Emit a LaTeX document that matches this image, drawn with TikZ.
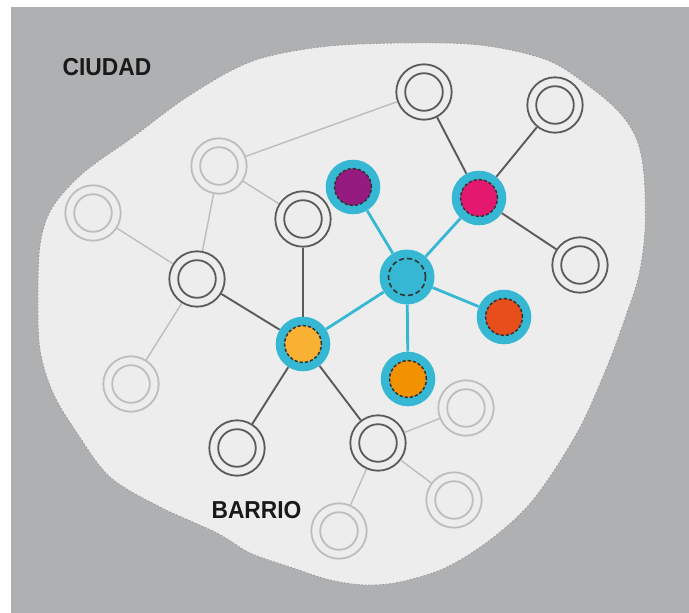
\documentclass[tikz,border=0pt]{standalone}
\usepackage{fontspec}
\newfontfamily\lblfont[FakeStretch=0.93]{Liberation Sans}
\definecolor{bggray}{HTML}{AFB0B2}
\definecolor{blobfill}{HTML}{EDEDED}
\definecolor{blobedge}{HTML}{9C9C9C}
\definecolor{ringdark}{HTML}{5A5A5A}
\definecolor{ringlight}{HTML}{BDBDBD}
\definecolor{cyanc}{HTML}{36B7D3}
\definecolor{dashc}{HTML}{333333}
\definecolor{purplec}{HTML}{951B81}
\definecolor{pinkc}{HTML}{E4186F}
\definecolor{redc}{HTML}{E84E1B}
\definecolor{orangec}{HTML}{F39200}
\definecolor{yellowc}{HTML}{F9B233}
\tikzset{
  ring/.style={circle, draw=#1, line width=1.8pt, minimum size=55.4pt, inner sep=0pt,
    path picture={\draw[#1, line width=1.8pt] (path picture bounding box.center) circle (18.8pt);}},
  hub/.style={circle, fill=cyanc, minimum size=54.6pt, inner sep=0pt,
    path picture={\fill[#1] (path picture bounding box.center) circle (18.4pt);
      \draw[dashc, line width=1.5pt, dash pattern=on 3.2pt off 2pt] (path picture bounding box.center) circle (18.4pt);}},
  core/.style={circle, fill=cyanc, minimum size=55pt, inner sep=0pt,
    path picture={\draw[dashc, line width=1.6pt, dash pattern=on 5pt off 3pt] (path picture bounding box.center) circle (18.5pt);}},
  darkedge/.style={draw=ringdark, line width=1.9pt},
  lightedge/.style={draw=ringlight, line width=1.4pt},
  cyanedge/.style={draw=cyanc, line width=2.8pt},
  lbl/.style={inner sep=0pt, font=\lblfont\bfseries\fontsize{24.5}{24.5}\selectfont, text=black!90}
}
\begin{document}
\begin{tikzpicture}[x=1pt, y=-1pt]
\useasboundingbox (0,0) rectangle (689,613);
\fill[white] (0,0) rectangle (689,613);
\fill[bggray] (11,7) rectangle (689,613);
% blob (barrio)
\draw[fill=blobfill, draw=blobedge, line width=0.8pt, dash pattern=on 2pt off 1.5pt]
  plot[smooth cycle, tension=0.55] coordinates {
  (250,62) (320,47) (400,43) (480,45) (547,60) (590,87) (620,113) (637,140) (644,175)
  (645,230) (639,275) (628,310) (607,367) (577,433) (533,500) (490,540) (445,568)
  (400,582) (365,585) (330,580) (290,567) (250,553) (217,533) (160,507) (110,477)
  (77,433) (53,393) (40,350) (38,300) (40,245) (52,208) (83,173) (133,137) (187,97)};
% nodes
\node[ring=ringdark] (A) at (424,92) {};
\node[ring=ringdark] (B) at (555,105) {};
\node[ring=ringdark] (C) at (580,265) {};
\node[ring=ringdark] (D) at (303,219) {};
\node[ring=ringdark] (E) at (197,279) {};
\node[ring=ringdark] (F) at (237,448) {};
\node[ring=ringdark] (G) at (378,443) {};
\node[ring=ringlight] (L1) at (219,166) {};
\node[ring=ringlight] (L2) at (93,213) {};
\node[ring=ringlight] (L3) at (131,384) {};
\node[ring=ringlight] (L4) at (466,408) {};
\node[ring=ringlight] (L5) at (454,500) {};
\node[ring=ringlight] (L6) at (339,531) {};
\node[hub=pinkc] (P) at (479,198) {};
\node[hub=purplec] (U) at (353,187) {};
\node[core] (Z) at (407,277) {};
\node[hub=redc] (R) at (504,317) {};
\node[hub=orangec] (O) at (408,379) {};
\node[hub=yellowc] (Y) at (303,344) {};
% connectors
\draw[lightedge] (A) -- (L1);
\draw[lightedge] (L1) -- (D);
\draw[lightedge] (L1) -- (E);
\draw[lightedge] (L2) -- (E);
\draw[lightedge] (E) -- (L3);
\draw[lightedge] (G) -- (L4);
\draw[lightedge] (G) -- (L5);
\draw[lightedge] (G) -- (L6);
\draw[darkedge] (A) -- (P);
\draw[darkedge] (B) -- (P);
\draw[darkedge] (P) -- (C);
\draw[darkedge] (D) -- (Y);
\draw[darkedge] (E) -- (Y);
\draw[darkedge] (Y) -- (F);
\draw[darkedge] (Y) -- (G);
\draw[cyanedge] (Z) -- (U);
\draw[cyanedge] (Z) -- (P);
\draw[cyanedge] (Z) -- (R);
\draw[cyanedge] (Z) -- (O);
\draw[cyanedge] (Z) -- (Y);
% labels
\node[lbl] (ciudad) at (107,67) {CIUDAD};
\node[lbl] (barrio) at (256.5,510.5) {BARRIO};
\end{tikzpicture}
\end{document}
